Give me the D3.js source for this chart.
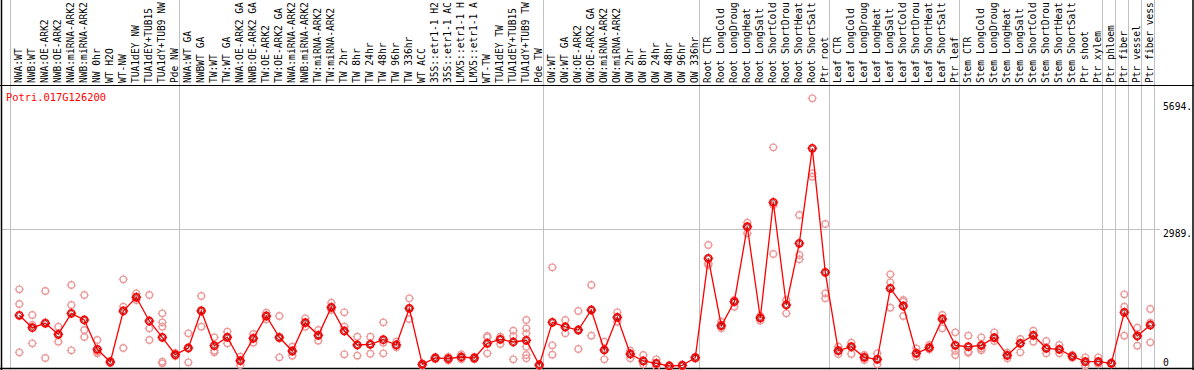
<!DOCTYPE html>
<html>
<head>
<meta charset="utf-8">
<script src="https://cdn.jsdelivr.net/npm/d3@7"></script>
<style>
  body { margin: 0; background: #fff; }
  text { font-family: "DejaVu Sans Mono", monospace; }
</style>
</head>
<body>
<svg width="1194" height="370"></svg>
<script>
// gene shown
var gene = "Potri.017G126200";

// sample labels, left to right (as far as they show in the header)
var labels = [
  "NWA:WT","NWB:WT","NWA:OE-ARK2","NWB:OE-ARK2","NWA:miRNA-ARK2","NWB:miRNA-ARK2","NW 0hr","WT H2O","WT-NW",
  "TUA1dEY NW","TUA1dEY+TUB15","TUA1dY+TUB9 NW","Pde NW",
  "NWA:WT GA","NWBWT GA","TW:WT","TW:WT GA","NWA:OE-ARK2 GA","NWB:OE-ARK2 GA","TW:OE-ARK2","TW:OE-ARK2 GA",
  "NWA:miRNA-ARK2","NWB:miRNA-ARK2","TW:miRNA-ARK2","TW:miRNA-ARK2","TW 2hr","TW 8hr","TW 24hr","TW 48hr",
  "TW 96hr","TW 336hr","WT ACC","35S::etr1-1 H2","35S::etr1-1 AC","LMX5::etr1-1 H","LMX5::etr1-1 A",
  "WT-TW","TUA1dEY TW","TUA1dEY+TUB15","TUA1dY+TUB9 TW","Pde TW",
  "OW:WT","OW:WT GA","OW:OE-ARK2","OW:OE-ARK2 GA","OW:miRNA-ARK2","OW:miRNA-ARK2","OW 2hr","OW 8hr",
  "OW 24hr","OW 48hr","OW 96hr","OW 336hr",
  "Root CTR","Root LongCold","Root LongDroug","Root LongHeat","Root LongSalt","Root ShortCold",
  "Root ShortDrou","Root ShortHeat","Root ShortSalt","Ptr root",
  "Leaf CTR","Leaf LongCold","Leaf LongDroug","Leaf LongHeat","Leaf LongSalt","Leaf ShortCold",
  "Leaf ShortDrou","Leaf ShortHeat","Leaf ShortSalt","Ptr leaf",
  "Stem CTR","Stem LongCold","Stem LongDroug","Stem LongHeat","Stem LongSalt","Stem ShortCold",
  "Stem ShortDrou","Stem ShortHeat","Stem ShortSalt","Ptr shoot","Ptr xylem",
  "Ptr phloem","Ptr fiber","Ptr vessel","Ptr fiber vess"
];

// mean expression per sample
var means = [
  1129,864,958,722,1172,1029,401,129,1222,1515,1007,658,285,
  429,1222,478,658,156,636,1114,658,364,971,701,1301,793,493,508,606,493,1279,79,214,199,236,214,529,615,557,594,64,
  979,879,814,1243,386,1086,300,150,101,43,58,221,
  2351,906,1421,3028,1072,3551,1350,2672,4708,2051,
  371,456,229,186,1708,1329,315,435,1050,486,
  456,486,649,272,529,701,422,401,251,135,135,
  101,1194,686,921
];

// replicate values per sample
var reps = [
  [1687,1372,336],[1136,921,529],[1650,979,214],[885,718,564],[1779,1350,379],[1564,814,664],
  [600,349,315],[150,129,107],[1901,1314,429],[1601,1528,1457],[1564,851,600],[1172,979,885,135,101],[321,279,257],
  [744,420,122],[1543,1237,885],[658,371,336],[778,664,529],[242,156,64],[729,636,542],[1185,1114,1044],
  [1114,632,229],[456,364,264],[1065,971,885],[814,701,585],[1399,1301,1243],[1194,885,294],[671,493,264],
  [671,508,306],[979,542,315],[564,493,444],[1494,1279,1050],[100,79,58],[236,214,193],[240,199,160],
  [294,220,190],[236,214,190],[686,658,315],[671,615,514],[799,686,186],[1029,851,744,456,279,208],[80,64,50],
  [2158,486,285],[1029,879,744],[1222,814,407],[1779,1243,692],[564,386,186],[1194,1086,992],[371,300,208],
  [279,150,79],[186,101,28],[60,43,25],[75,58,40],[240,221,200],
  [2636,2244,2207],[992,906,851],[1457,1421,1314],[3114,3028,2887],[1114,1072,1014],[4730,3493,2443],
  [1457,1350,1172],[3279,2422,2329],[5780,4172,4100],[3086,1601,1494],
  [456,371,300],[542,456,300],[279,229,171],[315,186,79],[2008,1837,1292],[1457,1421,1114],[422,315,242],
  [493,435,401],[1136,1050,851],[765,371,279],
  [692,349,327],[658,420,380],[765,649,579],[328,272,208],[621,530,336],[799,701,564],[579,422,315],
  [493,401,315],[279,251,221],[229,135,49],[229,135,86],
  [120,101,85],[1579,1314,692],[864,686,478],[1264,971,551]
];

// where the group separators sit (sample index)
var groups = [0, 13, 41, 53, 63, 73, 84, 85, 86, 87, 88];
var yTicks = [0, 2989, 5694];

var svg = d3.select("svg");

var x = d3.scaleBand()
  .domain(d3.range(labels.length))
  .range([10, 1154]);
var y = d3.scaleLinear()
  .domain([0, 5694])
  .range([368, 102.3]);

var cx = function(i) { return x(i) + 9.3; };

// grid lines
svg.append("line")
  .attr("x1", 1).attr("x2", 1160)
  .attr("y1", Math.round(y(2989)) + 0.5).attr("y2", Math.round(y(2989)) + 0.5)
  .attr("stroke", "#c0c0c0");

svg.selectAll(".sep")
  .data(groups)
  .enter()
  .append("line")
    .attr("class", "sep")
    .attr("x1", function(d) { return (d < labels.length ? x(d) : 1154) + 0.5; })
    .attr("x2", function(d) { return (d < labels.length ? x(d) : 1154) + 0.5; })
    .attr("y1", 0).attr("y2", 370)
    .attr("stroke", "#c0c0c0");

// frame
svg.append("line").attr("x1", 0).attr("x2", 1194).attr("y1", 85.5).attr("y2", 85.5).attr("stroke", "#000");
svg.append("line").attr("x1", 0).attr("x2", 1194).attr("y1", 368.5).attr("y2", 368.5).attr("stroke", "#000").attr("stroke-width", 1.5);
svg.append("line").attr("x1", 1.5).attr("x2", 1.5).attr("y1", 0).attr("y2", 370).attr("stroke", "#000").attr("stroke-width", 1.5);
svg.append("line").attr("x1", 1193).attr("x2", 1193).attr("y1", 0).attr("y2", 370).attr("stroke", "#000").attr("stroke-width", 1.5);

// sample labels
svg.selectAll(".lab")
  .data(labels)
  .enter()
  .append("text")
    .attr("class", "lab")
    .attr("transform", function(d, i) { return "translate(" + (x(i) + 12.2) + ",83) rotate(-90)"; })
    .attr("font-size", "9.6px")
    .attr("fill", "#000")
    .text(function(d) { return d; });

// y labels
svg.selectAll(".ylab")
  .data(yTicks)
  .enter()
  .append("text")
    .attr("class", "ylab")
    .attr("x", 1163)
    .attr("y", function(d) { return d == 0 ? 366 : y(d) + 8; })
    .attr("font-size", "9.7px")
    .attr("fill", "#000")
    .text(function(d) { return d == 0 ? "0" : d + "."; });

svg.append("text")
  .attr("x", 6).attr("y", 101)
  .attr("font-size", "10.4px")
  .attr("fill", "#ff0000")
  .text(gene);

function marker(g, r, col, w) {
  g.append("circle").attr("r", r).attr("fill", "none").attr("stroke", col).attr("stroke-width", w);
  [[0,-1],[0,1],[-1,0],[1,0]].forEach(function(v) {
    g.append("line")
      .attr("x1", v[0] * (r - 1)).attr("y1", v[1] * (r - 1))
      .attr("x2", v[0] * (r + 1.3)).attr("y2", v[1] * (r + 1.3))
      .attr("stroke", col).attr("stroke-width", 1);
  });
}

// replicates
var repPts = [];
reps.forEach(function(r, i) { r.forEach(function(v) { repPts.push([i, v]); }); });

svg.append("g").selectAll("g")
  .data(repPts)
  .enter()
  .append("g")
    .attr("transform", function(d) { return "translate(" + cx(d[0]) + "," + y(d[1]) + ")"; })
    .each(function() { marker(d3.select(this), 3.3, "#ec9a9a", 1.2); });

// mean line
svg.append("path")
  .datum(means)
  .attr("fill", "none")
  .attr("stroke", "#ff0000")
  .attr("stroke-width", 1.3)
  .attr("d", d3.line()
    .x(function(d, i) { return cx(i); })
    .y(function(d) { return y(d); }));

// mean markers
svg.append("g").selectAll("g")
  .data(means)
  .enter()
  .append("g")
    .attr("transform", function(d, i) { return "translate(" + cx(i) + "," + y(d) + ")"; })
    .each(function() {
      var g = d3.select(this);
      marker(g, 3.6, "#ff0000", 1.6);
      g.append("circle").attr("r", 2.4).attr("fill", "none").attr("stroke", "#700").attr("stroke-width", 0.7);
    });
</script>
</body>
</html>
